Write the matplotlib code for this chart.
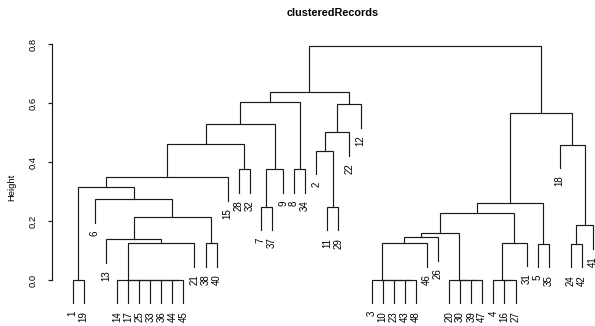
import matplotlib
matplotlib.use("Agg")
import matplotlib.pyplot as plt

plt.rcParams['font.family'] = ['Liberation Sans', 'DejaVu Sans']

title = "clusteredRecords"
ylabel = "Height"

# leaf labels in plotting order (left to right)
leaf_order = [1, 19, 6, 13, 14, 17, 25, 33, 36, 44, 45, 21, 38, 40, 15, 28, 32,
              7, 37, 9, 8, 34, 2, 11, 29, 22, 12, 3, 10, 23, 43, 48, 46, 26,
              20, 30, 39, 47, 4, 16, 27, 31, 5, 35, 18, 24, 42, 41]

# agglomeration steps, R hclust style: negative = leaf label, positive = earlier step
merge_left = [-44, -36, -33, -25, -17, -14, -1, -43, -23, -10, -3, -39, -30, -20,
              -16, -4, 6, -38, 11, -5, -24, 16, -13, 19, 24, 21, 23, 25, -7, -11,
              28, -6, 7, 33, -28, 29, -8, -2, -18, 34, 38, 40, 31, 41, 42, 45, 46]
merge_right = [-45, 1, 2, 3, 4, 5, -19, -48, 8, 9, 10, -47, 12, 13,
               -27, 15, -21, -40, -46, -35, -42, -31, 17, -26, 14, -41, 18, 22, -37, -29,
               20, 27, 32, -15, -32, -9, -34, 30, 26, 35, -22, 36, 39, -12, 37, 44, 43]
merge_height = [0.0, 0.0, 0.0, 0.0, 0.0, 0.0, 0.0, 0.0, 0.0, 0.0, 0.0, 0.0, 0.0, 0.0,
                0.0, 0.0, 0.124, 0.124, 0.124, 0.122, 0.122, 0.126, 0.138, 0.145,
                0.160, 0.186, 0.213, 0.226, 0.248, 0.248, 0.261, 0.274, 0.314, 0.348,
                0.375, 0.375, 0.375, 0.437, 0.459, 0.461, 0.501, 0.528, 0.567, 0.596,
                0.603, 0.636, 0.793]

y_ticks = [0.0, 0.2, 0.4, 0.6, 0.8]
hang = 0.1

W, H = 595, 326
fig = plt.figure(figsize=(W / 100, H / 100), dpi=100)

n = len(leaf_order)
xlo, xhi = 1 - 0.04 * (n - 1), n + 0.04 * (n - 1)
ylo, yhi = -0.12, 0.82
px_per_x = 11.07
px_per_y = 295.0
ax_left = 72.7 - (1 - xlo) * px_per_x
ax_bottom = (H - 280.0) + ylo * px_per_y
ax = fig.add_axes([ax_left / W, ax_bottom / H,
                   (xhi - xlo) * px_per_x / W, (yhi - ylo) * px_per_y / H])
ax.set_xlim(xlo, xhi)
ax.set_ylim(ylo, yhi)

pos = {lab: i + 1 for i, lab in enumerate(leaf_order)}
drop = hang * max(merge_height)
node_x = {}
lw = 0.85
col = "#1a1a1a"


def child_info(ref, parent_h):
    if ref < 0:
        return pos[-ref], parent_h - drop, -ref
    return node_x[ref], merge_height[ref - 1], None


leaf_ends = {}
for k, (a, b, h) in enumerate(zip(merge_left, merge_right, merge_height), start=1):
    xa, ya, la = child_info(a, h)
    xb, yb, lb = child_info(b, h)
    ax.plot([xa, xa, xb, xb], [ya, h, h, yb], color=col, lw=lw,
            solid_joinstyle='miter', clip_on=False)
    node_x[k] = (xa + xb) / 2
    if la is not None:
        leaf_ends[la] = (xa, ya)
    if lb is not None:
        leaf_ends[lb] = (xb, yb)

for lab, (x, y) in leaf_ends.items():
    ax.annotate(str(lab), (x, y), xytext=(0, -5.4), textcoords='offset points',
                rotation=90, ha='center', va='top', fontsize=7, clip_on=False)

for s in ['top', 'right', 'bottom']:
    ax.spines[s].set_visible(False)
ax.spines['left'].set_bounds(0, 0.8)
ax.spines['left'].set_linewidth(0.85)
ax.spines['left'].set_color(col)
ax.set_xticks([])
ax.set_yticks(y_ticks)
ax.set_yticklabels([f"{t:.1f}" for t in y_ticks], rotation=90, va='center',
                   fontsize=6.8)
ax.tick_params(axis='y', length=3, width=0.85, pad=7, color=col)
ax.patch.set_visible(False)

fig.text(332.5 / W, 1 - 12.5 / H, title, ha='center', va='center',
         fontsize=7.8, fontweight='bold')
fig.text(11.7 / W, 1 - 187 / H, ylabel, ha='center', va='center',
         rotation=90, fontsize=6.8)

fig.savefig("out.png", dpi=100)
